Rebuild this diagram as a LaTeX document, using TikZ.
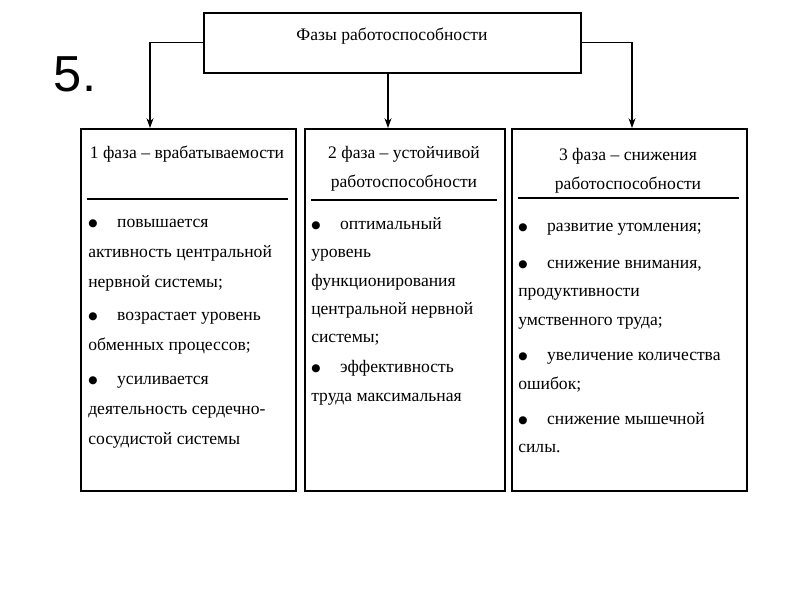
\documentclass[tikz,border=0pt]{standalone}
\usepackage{fontspec}
\setmainfont{Liberation Serif}
\newfontfamily\numfont{Liberation Sans}
\newfontfamily\symfont{DejaVu Sans}
\usetikzlibrary{arrows.meta, positioning, shadows}

\newcommand{\itm}{{\symfont\fontsize{7.5}{7.5}\selectfont\raisebox{0.6pt}{●}}\hspace{14pt}}

\begin{document}
\begin{tikzpicture}[x=0.025cm, y=-0.025cm,
    phasebox/.style={draw, line width=1.1pt, fill=white, anchor=north west, inner sep=0pt,
                     drop shadow={shadow xshift=1pt, shadow yshift=-1pt, opacity=.7}},
    headtxt/.style={align=center, font=\fontsize{12.5}{20.5}\selectfont},
    bodytxt/.style={anchor=north west, align=left, inner sep=0pt,
                    font=\fontsize{12.5}{#1}\selectfont},
    link/.style={thick, -{Stealth[length=7pt, width=5pt]}},
]
    \useasboundingbox (0,0) rectangle (800,600);

    \node[font=\numfont\fontsize{36}{36}\selectfont] (num) at (75,74) {5.};

    % title
    \node[phasebox, minimum width=377*0.025cm, minimum height=60*0.025cm] (title) at (203,12) {};
    \node[headtxt] (titletxt) at (392,36) {Фазы работоспособности};

    % phases
    \node[phasebox, minimum width=215*0.025cm, minimum height=362*0.025cm] (ph1) at (80,128) {};
    \node[phasebox, minimum width=200*0.025cm, minimum height=362*0.025cm] (ph2) at (304,128) {};
    \node[phasebox, minimum width=235*0.025cm, minimum height=362*0.025cm] (ph3) at (511,128) {};

    \node[headtxt] (head1) at (187,154) {1 фаза -- врабатываемости};
    \node[headtxt] (head2) at (404,169) {2 фаза -- устойчивой\\работоспособности};
    \node[headtxt] (head3) at (628,171) {3 фаза -- снижения\\работоспособности};

    \draw[line width=1.1pt] (87,199) -- (288,199);
    \draw[line width=1.1pt] (311,200) -- (497,200);
    \draw[line width=1.1pt] (518,198) -- (739,198);

    \node[bodytxt=21.3] (body1) at (88,219) {\itm повышается\\
        активность центральной\\нервной системы;\\[2pt]
        \itm возрастает уровень\\обменных процессов;\\[3pt]
        \itm усиливается\\деятельность сердечно-\\сосудистой системы};
    \node[bodytxt=20.2] (body2) at (311,217) {\itm оптимальный\\уровень\\
        функционирования\\центральной нервной\\системы;\\[1pt]
        \itm эффективность\\труда максимальная};
    \node[bodytxt=20.2] (body3) at (518,223) {\itm развитие утомления;\\[6pt]
        \itm снижение внимания,\\продуктивности\\умственного труда;\\[5pt]
        \itm увеличение количества\\ошибок;\\[5pt]
        \itm снижение мышечной\\силы.};

    % connectors
    \coordinate (in1) at (150,128);
    \coordinate (in2) at (388,128);
    \coordinate (in3) at (632,128);
    \draw[link] (title.west) -| (in1);
    \draw[link] (title.south -| in2) -- (in2);
    \draw[link] (title.east) -| (in3);
\end{tikzpicture}
\end{document}
